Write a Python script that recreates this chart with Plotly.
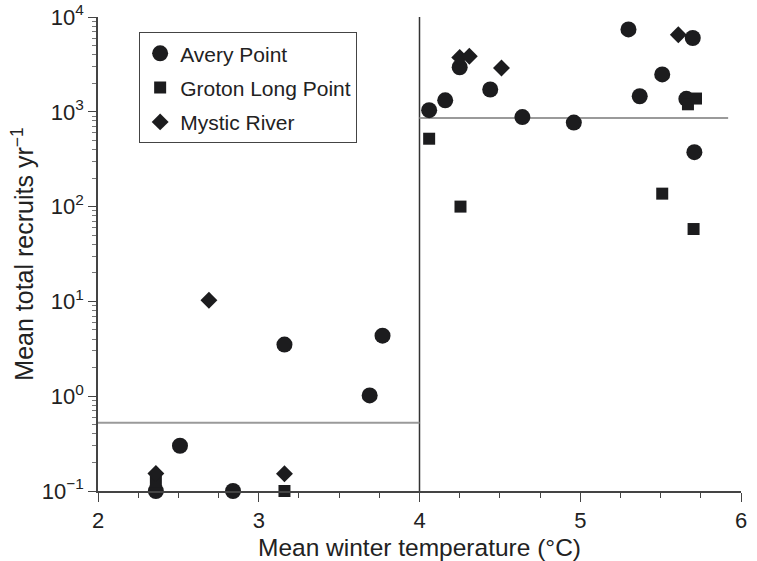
import plotly.graph_objects as go

# Data
avery_temp = [2.36, 2.51, 2.84, 3.16, 3.69, 3.77,
              4.06, 4.16, 4.25, 4.44, 4.64, 4.96, 5.30, 5.37, 5.51, 5.66, 5.70, 5.71]
avery_recruits = [0.1, 0.30, 0.1, 3.5, 1.02, 4.35,
                  1040, 1320, 2950, 1720, 880, 770, 7400, 1460, 2480, 1370, 6000, 375]

groton_temp = [2.36, 3.16, 4.06, 4.255, 5.51, 5.67, 5.72, 5.705]
groton_recruits = [0.125, 0.1, 520, 100, 137, 1200, 1380, 58]

mystic_temp = [2.36, 2.69, 3.16, 4.25, 4.31, 4.51, 5.61]
mystic_recruits = [0.153, 10.3, 0.152, 3750, 3850, 2900, 6500]

threshold_temp = 4.0
cold_mean = 0.525
warm_mean = 860
temp_min, temp_max, warm_line_end = 2.0, 6.0, 5.92
y_min, y_max = 0.1, 10000

x_ticks = [2, 3, 4, 5, 6]
y_ticks = [0.1, 1, 10, 100, 1000, 10000]
y_ticktext = ["10<sup>−1</sup>", "10<sup>0</sup>", "10<sup>1</sup>",
              "10<sup>2</sup>", "10<sup>3</sup>", "10<sup>4</sup>"]

FONT = "Liberation Sans, Arial, Helvetica, sans-serif"
MARK = "#1c1c1e"

fig = go.Figure()

# Threshold / mean lines
fig.add_trace(go.Scatter(x=[threshold_temp, threshold_temp], y=[y_min, y_max], mode="lines",
                         line=dict(color="#333333", width=1.5), showlegend=False, hoverinfo="skip"))
fig.add_trace(go.Scatter(x=[temp_min, threshold_temp], y=[cold_mean, cold_mean], mode="lines",
                         line=dict(color="#9a9a9a", width=2.2), showlegend=False, hoverinfo="skip"))
fig.add_trace(go.Scatter(x=[threshold_temp, warm_line_end], y=[warm_mean, warm_mean], mode="lines",
                         line=dict(color="#9a9a9a", width=2.2), showlegend=False, hoverinfo="skip"))

fig.add_trace(go.Scatter(x=avery_temp, y=avery_recruits, mode="markers", name="Avery Point",
                         legendgroup="a", cliponaxis=False,
                         marker=dict(symbol="circle", size=16, color=MARK)))
fig.add_trace(go.Scatter(x=groton_temp, y=groton_recruits, mode="markers", name="Groton Long Point",
                         legendgroup="b", cliponaxis=False,
                         marker=dict(symbol="square", size=12, color=MARK)))
fig.add_trace(go.Scatter(x=mystic_temp, y=mystic_recruits, mode="markers", name="Mystic River",
                         legendgroup="c", cliponaxis=False,
                         marker=dict(symbol="diamond", size=13, color=MARK)))

fig.update_layout(
    width=757, height=561,
    margin=dict(l=98, r=16, t=17, b=70),
    paper_bgcolor="white", plot_bgcolor="white",
    font=dict(family=FONT, size=21, color="#222222"),
    legend=dict(x=0.064, y=0.968, xanchor="left", yanchor="top",
                bordercolor="#444444", borderwidth=1, bgcolor="white",
                font=dict(size=21, color="#222222"),
                traceorder="grouped", tracegroupgap=4),
    xaxis=dict(range=[temp_min, temp_max], tickvals=x_ticks, automargin=False,
               showline=True, linecolor="#444444", linewidth=1.5,
               ticks="outside", ticklen=9, tickwidth=1.2, tickcolor="#444444",
               minor=dict(dtick=0.25, ticks="outside", ticklen=5, tickcolor="#444444", showgrid=False),
               showgrid=False, zeroline=False,
               tickfont=dict(size=22),
               title=dict(text="Mean winter temperature (°C)", font=dict(size=24.5), standoff=8)),
    yaxis=dict(type="log", range=[-1, 4], tickvals=y_ticks, ticktext=y_ticktext, automargin=False,
               ticklabeloverflow="allow",
               showline=True, linecolor="#444444", linewidth=1.5,
               ticks="outside", ticklen=8, tickwidth=1.2, tickcolor="#444444",
               minor=dict(dtick="D1", ticks="outside", ticklen=4, tickcolor="#777777", showgrid=False),
               showgrid=False, zeroline=False,
               tickfont=dict(size=22),
               title=dict(text="Mean total recruits yr<sup>−1</sup>", font=dict(size=25), standoff=1)),
)

# Remove the default page margin so the figure sits at the window's top-left corner
fig.write_html("out.html", config={"displayModeBar": False},
               post_script="document.body.style.margin='0';")
